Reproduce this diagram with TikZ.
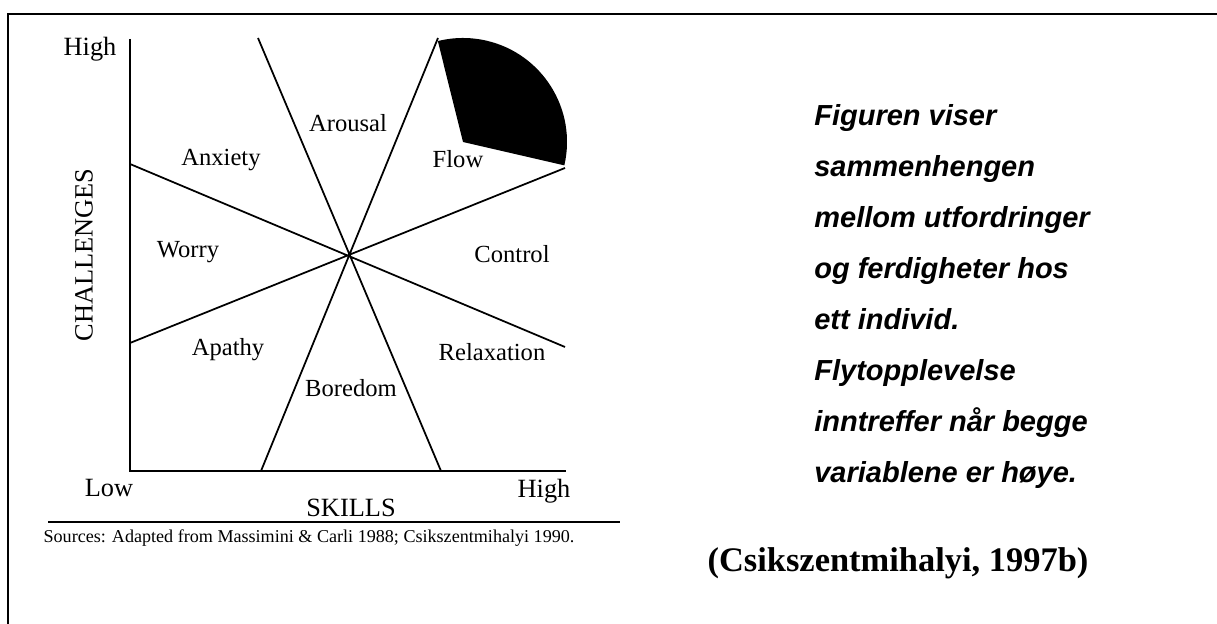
\documentclass[tikz,border=0pt]{standalone}
\usepackage{fontspec}
\setmainfont{Liberation Serif}
\newfontfamily\notefont{Liberation Sans}
\usepackage{tikz}
\usetikzlibrary{calc}
\tikzset{
  zone/.style={font=\fontsize{14}{16}\selectfont,inner sep=1pt},
  axislbl/.style={font=\fontsize{15}{17}\selectfont,inner sep=1pt},
  ray/.style={line width=1pt,black},
  axisln/.style={line width=1.3pt,black,line join=miter},
  frameln/.style={line width=1.4pt,black,line join=miter},
  note/.style={font=\notefont\bfseries\itshape\fontsize{16.5}{20}\selectfont,anchor=base west,inner sep=0pt}
}

\begin{document}
\begin{tikzpicture}[x=0.02cm,y=0.02cm]
\useasboundingbox (0,0) rectangle (1217,624);
% frame
\coordinate (FB) at (8,0); \coordinate (FC) at (8,610); \coordinate (FR) at (1217,610);
\draw[frameln] (FB)--(FC)--(FR);
% axes
\coordinate (Ytop) at (130,585); \coordinate (Orig) at (130,153); \coordinate (Xend) at (566,153);
\draw[axisln] (Ytop)--(Orig)--(Xend);
% rays through the centre
\coordinate (O) at (350,368);
\coordinate (L1) at (130,460); \coordinate (R1) at (565,277);
\coordinate (L2) at (130,281); \coordinate (R2) at (565,456);
\coordinate (T1) at (258,586); \coordinate (B1) at (441,153);
\coordinate (T2) at (438,586); \coordinate (B2) at (261,153);
\draw[ray] (L1)--(R1) (L2)--(R2) (T1)--(B1) (T2)--(B2);
% flow sector
\coordinate (S) at (463,482);
\fill[black] (S) -- ++(-13:104) arc[start angle=-13,end angle=104,radius=104] -- cycle;
% zones
\node[zone] (arousal) at (348,501) {Arousal};
\node[zone] (anxiety) at (221,464) {Anxiety};
\node[zone] (flow) at (458,465) {Flow};
\node[zone] (worry) at (188,372) {Worry};
\node[zone] (control) at (512,370) {Control};
\node[zone] (apathy) at (228,274) {Apathy};
\node[zone] (relax) at (492,272) {Relaxation};
\node[zone] (boredom) at (351,236) {Boredom};
% axis labels
\node[axislbl] (yhigh) at (90,575) {High};
\node[axislbl] (xlow) at (109,136) {Low};
\node[axislbl] (xhigh) at (544,133) {High};
\node[axislbl] (skills) at (351,116) {SKILLS};
\node[axislbl,rotate=90] (chall) at (84,369) {CHALLENGES};
% source line
\coordinate (U1) at (48,102); \coordinate (U2) at (620,102);
\draw[line width=0.6pt] (U1)--(U2);
\node[font=\fontsize{10.3}{12}\selectfont,inner sep=0pt] (src) at (309,86) {Sources: Adapted from Massimini \& Carli 1988; Csikszentmihalyi 1990.};
% note text
\foreach \txt [count=\i from 0] in {Figuren viser,sammenhengen,mellom utfordringer,og ferdigheter hos,ett individ.,Flytopplevelse,inntreffer når begge,variablene er høye.}
  \node[note] (note\i) at (814,498-51*\i) {\txt};
\node[font=\bfseries\fontsize{19.6}{22}\selectfont,inner sep=0pt] (cite) at (898,61) {(Csikszentmihalyi, 1997b)};
\end{tikzpicture}
\end{document}
